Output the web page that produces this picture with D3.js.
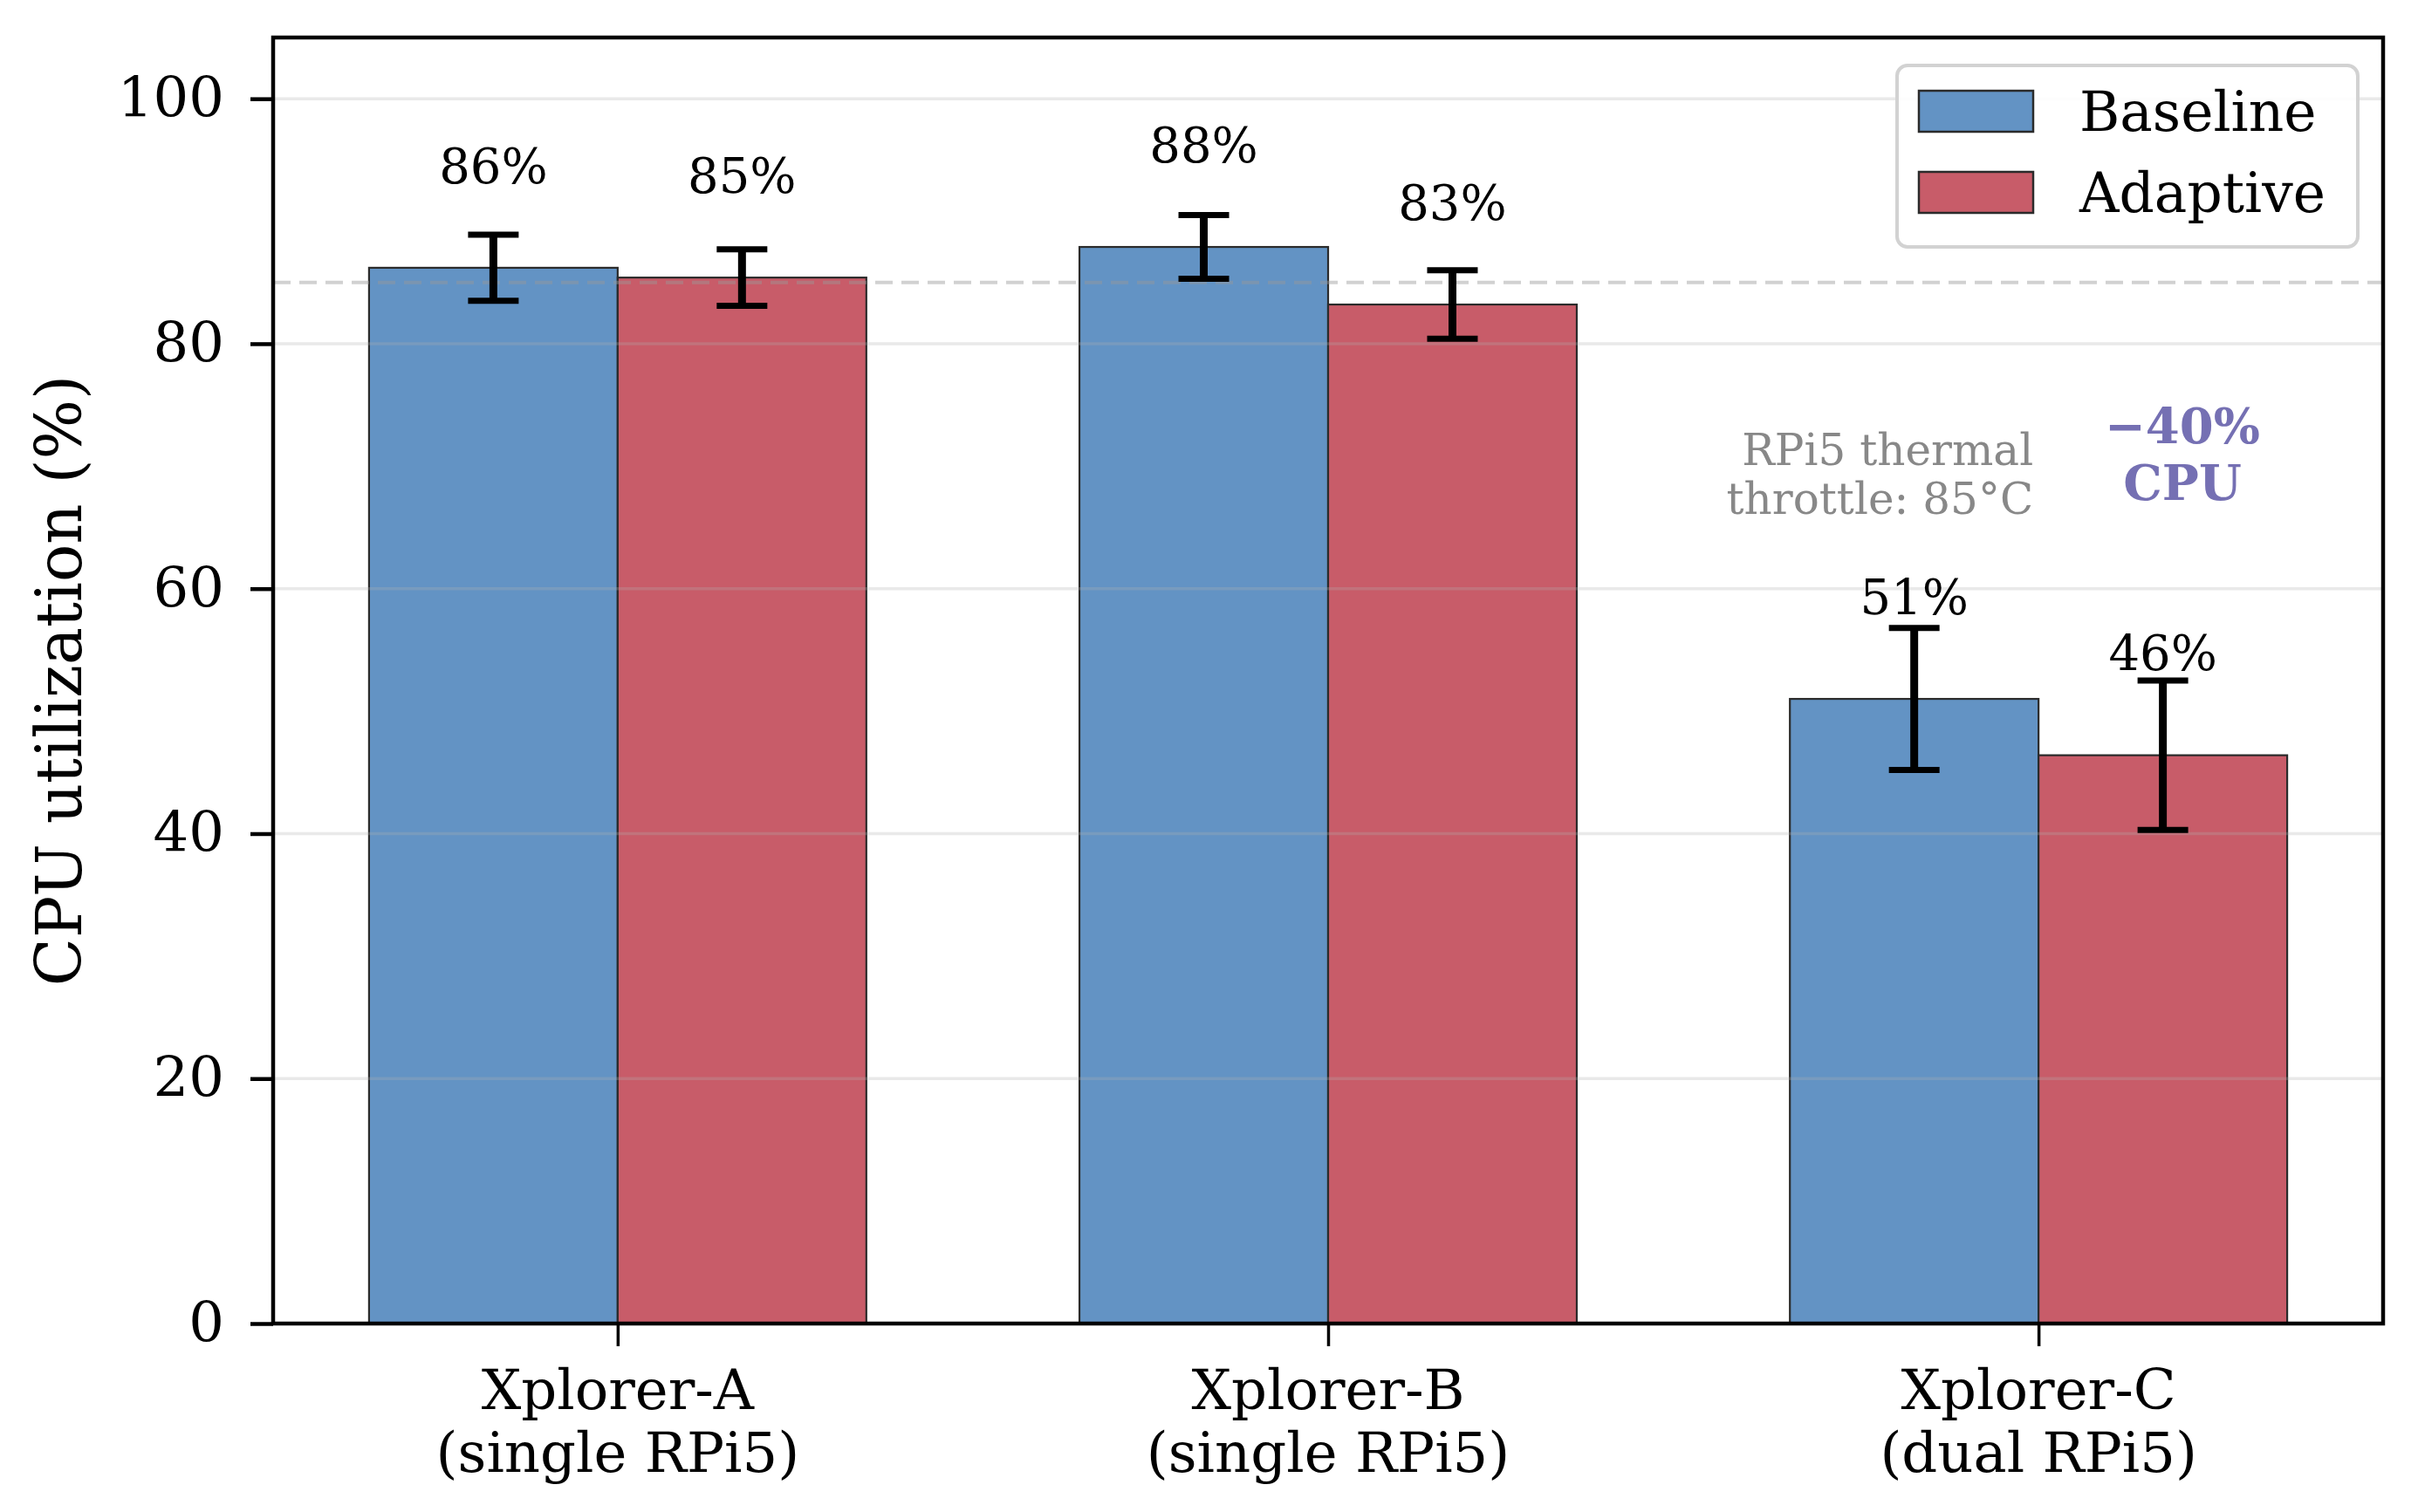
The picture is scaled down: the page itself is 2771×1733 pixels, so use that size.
<!DOCTYPE html>
<html>
<head>
<meta charset="utf-8">
<script src="https://cdn.jsdelivr.net/npm/d3@7"></script>
<style>
  body { margin: 0; background: #fff; }
  svg { display: block; }
</style>
</head>
<body>
<div id="chart"></div>
<script>
// data
const categories = ['Xplorer-A', 'Xplorer-B', 'Xplorer-C'];
const categorySubs = ['(single RPi5)', '(single RPi5)', '(dual RPi5)'];
const seriesNames = ['Baseline', 'Adaptive'];
const baselineVals = [86.2, 87.9, 51.0];
const baselineErr = [2.7, 2.6, 5.8];
const adaptiveVals = [85.4, 83.2, 46.4];
const adaptiveErr = [2.3, 2.8, 6.1];
const yTicks = [0, 20, 40, 60, 80, 100];
const throttleLevel = 85;
const throttleNote = ['RPi5 thermal', 'throttle: 85°C'];
const reductionNote = ['\u221240%', 'CPU'];

const width = 2771, height = 1733;
const margin = { top: 43, right: 40, bottom: 216, left: 313 };
const font = '"DejaVu Serif", serif';
const colors = ['#6393c4', '#c85c69'];
const barW = 0.35;

const svg = d3.select('#chart').append('svg')
  .attr('width', width)
  .attr('height', height)
  .style('font-family', font);

const x = d3.scaleLinear()
  .domain([-0.485, 2.485])
  .range([margin.left, width - margin.right]);
const y = d3.scaleLinear()
  .domain([0, 105])
  .range([height - margin.bottom, margin.top]);

const series = [
  { name: seriesNames[0], vals: baselineVals, err: baselineErr, off: -barW, color: colors[0] },
  { name: seriesNames[1], vals: adaptiveVals, err: adaptiveErr, off: 0, color: colors[1] }
];

// bars
series.forEach(s => {
  svg.append('g').selectAll('rect')
    .data(s.vals)
    .join('rect')
      .attr('x', (d, i) => x(i + s.off))
      .attr('y', d => y(d))
      .attr('width', x(barW) - x(0))
      .attr('height', d => y(0) - y(d))
      .attr('fill', s.color)
      .attr('stroke', '#2b2b2b')
      .attr('stroke-width', 2.2);
});

// grid drawn over the bars, faint
svg.append('g').selectAll('line')
  .data(yTicks.slice(1))
  .join('line')
    .attr('x1', x.range()[0]).attr('x2', x.range()[1])
    .attr('y1', d => y(d)).attr('y2', d => y(d))
    .attr('stroke', '#b0b0b0')
    .attr('stroke-opacity', 0.28)
    .attr('stroke-width', 3.5);

// throttle line
svg.append('line')
  .attr('x1', x.range()[0]).attr('x2', x.range()[1])
  .attr('y1', y(throttleLevel)).attr('y2', y(throttleLevel))
  .attr('stroke', '#999')
  .attr('stroke-opacity', 0.45)
  .attr('stroke-width', 4)
  .attr('stroke-dasharray', '20 10');

// error bars + value labels
series.forEach(s => {
  const g = svg.append('g');
  s.vals.forEach((v, i) => {
    const cx = x(i + s.off + barW / 2);
    const e = s.err[i];
    g.append('line')
      .attr('x1', cx).attr('x2', cx)
      .attr('y1', y(v - e)).attr('y2', y(v + e))
      .attr('stroke', '#000').attr('stroke-width', 9);
    [v - e, v + e].forEach(c => {
      g.append('line')
        .attr('x1', cx - 29).attr('x2', cx + 29)
        .attr('y1', y(c)).attr('y2', y(c))
        .attr('stroke', '#000').attr('stroke-width', 7);
    });
    g.append('text')
      .attr('x', cx)
      .attr('y', y(v + 6) - 13)
      .attr('text-anchor', 'middle')
      .attr('font-size', 56)
      .attr('fill', '#000')
      .text(`${Math.round(v)}%`);
  });
});

// annotations
const noteThrottle = svg.append('text')
  .attr('text-anchor', 'end')
  .attr('font-size', 50)
  .attr('fill', '#888');
throttleNote.forEach((t, i) => {
  noteThrottle.append('tspan')
    .attr('x', x(2.0) - 6)
    .attr('y', y(70.1) + i * 56)
    .text(t);
});

const noteCpu = svg.append('text')
  .attr('text-anchor', 'middle')
  .attr('font-size', 56)
  .attr('font-weight', 'bold')
  .attr('fill', '#7570b3');
reductionNote.forEach((t, i) => {
  noteCpu.append('tspan')
    .attr('x', x(2.2) + 2)
    .attr('y', y(71.9) + i * 65)
    .text(t);
});

// axes
const yAxis = svg.append('g')
  .attr('transform', `translate(${x.range()[0]},0)`)
  .call(d3.axisLeft(y).tickValues(yTicks).tickSize(26).tickPadding(30).tickFormat(d3.format('d')));
yAxis.select('.domain').remove();
yAxis.selectAll('.tick line').attr('stroke', '#000').attr('stroke-width', 4.5);
yAxis.selectAll('.tick text')
  .attr('font-family', font)
  .attr('font-size', 64)
  .attr('fill', '#000');

const xAxis = svg.append('g')
  .attr('transform', `translate(0,${y(0)})`)
  .call(d3.axisBottom(x).tickValues([0, 1, 2]).tickSize(26).tickFormat(''));
xAxis.select('.domain').remove();
xAxis.selectAll('.tick line').attr('stroke', '#000').attr('stroke-width', 3.5);

const xLabels = svg.append('g')
  .attr('font-size', 64)
  .attr('fill', '#000')
  .attr('text-anchor', 'middle');
categories.forEach((c, i) => {
  const t = xLabels.append('text');
  t.append('tspan').attr('x', x(i)).attr('y', 1615).text(c);
  t.append('tspan').attr('x', x(i)).attr('y', 1687).text(categorySubs[i]);
});

svg.append('text')
  .attr('transform', `translate(93,${(y(0) + y(105)) / 2}) rotate(-90)`)
  .attr('text-anchor', 'middle')
  .attr('font-size', 72)
  .attr('fill', '#000')
  .text('CPU utilization (%)');

// frame
svg.append('rect')
  .attr('x', x.range()[0]).attr('y', y(105))
  .attr('width', x.range()[1] - x.range()[0])
  .attr('height', y(0) - y(105))
  .attr('fill', 'none')
  .attr('stroke', '#000')
  .attr('stroke-width', 4.5);

// legend
const lg = svg.append('g').attr('transform', 'translate(2174,75)');
lg.append('rect')
  .attr('width', 528).attr('height', 208)
  .attr('rx', 12)
  .attr('fill', '#fff')
  .attr('fill-opacity', 0.9)
  .attr('stroke', '#d2d2d2')
  .attr('stroke-width', 4);
series.forEach((s, i) => {
  const row = lg.append('g').attr('transform', `translate(25,${29 + i * 93})`);
  row.append('rect')
    .attr('width', 131).attr('height', 47)
    .attr('fill', s.color)
    .attr('stroke', '#2b2b2b')
    .attr('stroke-width', 2.5);
  row.append('text')
    .attr('x', 184).attr('y', 46)
    .attr('font-size', 63)
    .attr('fill', '#000')
    .text(s.name);
});
</script>
</body>
</html>
